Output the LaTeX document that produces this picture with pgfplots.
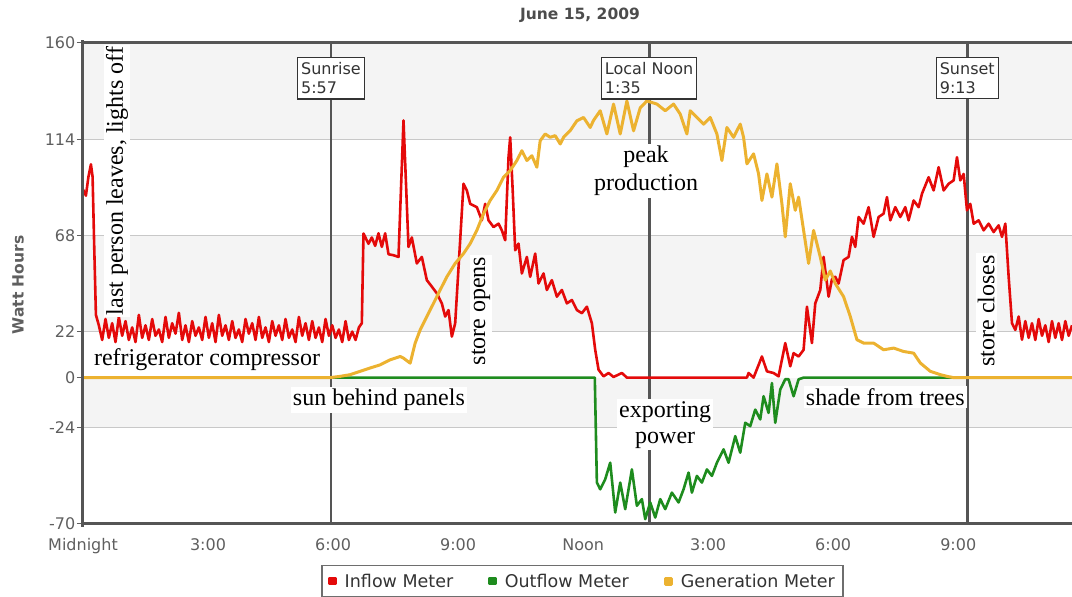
\documentclass[border=0pt]{standalone}
\usepackage{fontspec}
\setmainfont{Liberation Serif}
\newfontfamily\sansf{DejaVu Sans}
\usepackage{pgfplots}
\pgfplotsset{compat=1.18}
\definecolor{inred}{RGB}{228,10,10}
\definecolor{outgreen}{RGB}{30,140,30}
\definecolor{genyel}{RGB}{236,178,48}
\definecolor{frame}{RGB}{85,85,85}
\definecolor{band}{RGB}{244,244,244}
\definecolor{gridc}{RGB}{200,200,200}
\definecolor{tickt}{RGB}{95,95,95}
\definecolor{boxt}{RGB}{51,51,51}
\begin{document}
\begin{tikzpicture}
\path[use as bounding box] (0,0) rectangle (1072pt,597pt);
\begin{axis}[
  at={(83pt,73pt)}, anchor=south west,
  scale only axis, width=989pt, height=481pt,
  xmin=0, xmax=23.73, ymin=-70, ymax=160,
  clip=false,
  axis line style={draw=none},
  tick pos=left,
  xtick={0,3,6,9,12,15,18,21},
  xticklabels={Midnight,3:00,6:00,9:00,Noon,3:00,6:00,9:00},
  ytick={-70,-24,0,22,68,114,160},
  yticklabels={-70,-24,0,22,68,114,160},
  x tick style={draw=none},
  y tick style={draw=tickt, line width=1pt},
  tick align=outside,
  major tick length=6pt,
  ticklabel style={font=\sansf\fontsize{16}{19}\selectfont, text=tickt},
  xticklabel style={inner sep=0pt, text height=12pt, text depth=3pt, yshift=-8pt},
  yticklabel style={inner sep=0pt, xshift=-1.5pt},
  legend columns=3,
  legend image code/.code={\fill[#1] (0pt,-3pt) rectangle (6pt,3pt);},
  legend style={at={(axis description cs:0.505,-0.0852)}, anchor=north,
    draw=frame!85, line width=1.5pt, fill=white,
    font=\sansf\fontsize{17.5}{20}\selectfont, text=boxt,
    inner xsep=6pt, inner ysep=6pt,
    /tikz/every odd column/.append style={column sep=6pt},
    /tikz/every even column/.append style={column sep=33pt}},
  legend cell align=left,
  every axis plot/.append style={line join=round},
]
% background bands
\fill[band] (axis cs:0,114) rectangle (axis cs:23.73,160);
\fill[band] (axis cs:0,22) rectangle (axis cs:23.73,68);
\fill[band] (axis cs:0,-24) rectangle (axis cs:23.73,0);
% grid lines
\draw[gridc, line width=1pt] (axis cs:0,114) -- (axis cs:23.73,114);
\draw[gridc, line width=1pt] (axis cs:0,68) -- (axis cs:23.73,68);
\draw[gridc, line width=1pt] (axis cs:0,22) -- (axis cs:23.73,22);
\draw[gridc, line width=1pt] (axis cs:0,-24) -- (axis cs:23.73,-24);
% event lines
\draw[frame, line width=2.8pt] (axis cs:5.95,-70) -- (axis cs:5.95,160);
\draw[frame, line width=2.8pt] (axis cs:13.583,-70) -- (axis cs:13.583,160);
\draw[frame, line width=2.8pt] (axis cs:21.217,-70) -- (axis cs:21.217,160);

\addplot[color=inred, line width=2.6pt] coordinates {
(0,90) (0.07,87) (0.13,96) (0.19,102) (0.23,96) (0.27,62) (0.31,30) (0.38,25)
(0.46,18) (0.54,28) (0.62,19) (0.70,26) (0.78,17) (0.86,29) (0.94,20) (1.02,27) (1.10,18)
(1.18,24) (1.26,17) (1.34,30) (1.42,19) (1.50,25) (1.58,18) (1.66,28) (1.74,20) (1.82,23)
(1.90,17) (1.98,29) (2.06,19) (2.14,26) (2.22,21) (2.30,31) (2.38,18) (2.46,25) (2.54,17)
(2.62,27) (2.70,20) (2.78,24) (2.86,18) (2.94,29) (3.02,19) (3.10,26) (3.18,17) (3.26,30)
(3.34,20) (3.42,25) (3.50,18) (3.58,27) (3.66,19) (3.74,23) (3.82,17) (3.90,28) (3.98,21)
(4.06,26) (4.14,18) (4.22,29) (4.30,19) (4.38,24) (4.46,17) (4.54,27) (4.62,20) (4.70,25)
(4.78,18) (4.86,28) (4.94,19) (5.02,23) (5.10,17) (5.18,29) (5.26,20) (5.34,26) (5.42,18)
(5.50,27) (5.58,19) (5.66,24) (5.74,17) (5.82,28) (5.90,20) (5.98,25) (6.06,19) (6.14,23)
(6.22,17) (6.30,27) (6.38,18) (6.46,22) (6.54,18) (6.62,24)
(6.69,26) (6.73,68.9) (6.85,64) (6.93,67) (7.01,63) (7.09,69) (7.17,62.5) (7.25,69) (7.33,59)
(7.45,58.5) (7.57,57.7) (7.69,123) (7.81,62.5) (7.89,67) (8.01,54.6) (8.13,57.7)
(8.25,46.6) (8.37,43.5) (8.49,40.3) (8.61,35.5) (8.69,29.2) (8.77,32.3) (8.85,19.6) (8.93,26)
(9.05,65.7) (9.13,92.7) (9.21,89.5) (9.29,83.1) (9.45,81.5) (9.57,75.2) (9.65,83.1) (9.73,75.2)
(9.85,72) (9.97,73.6) (10.05,70.4) (10.13,65.7) (10.21,105.4) (10.25,114.9) (10.31,89.5)
(10.37,60.9) (10.45,64.1) (10.53,49.8) (10.65,57.7) (10.73,48.2) (10.85,59.3) (10.93,45)
(11.05,49.8) (11.13,41.9) (11.25,46.6) (11.37,38.7) (11.49,41.9) (11.61,35.5) (11.73,37.1)
(11.85,32.3) (11.97,30.8) (12.09,33.9) (12.21,26) (12.29,13.3) (12.37,3.8) (12.49,0.6)
(12.61,2.2) (12.73,0.3) (12.93,2.2) (13.05,0) (15.93,0) (15.97,2.2) (16.09,0) (16.29,10.1)
(16.41,3) (16.57,2.2) (16.69,0.6) (16.85,16.5) (16.97,5.4) (17.05,11.7) (17.17,10.1) (17.29,13.3)
(17.37,33.9) (17.49,16.5) (17.57,35.5) (17.69,41.9) (17.77,57.7) (17.89,38.7) (17.97,47)
(18.05,48.2) (18.13,45) (18.25,56.2) (18.37,57.7) (18.45,67.3) (18.53,62.5) (18.61,76.8)
(18.73,73.6) (18.85,81.5) (18.97,67.3) (19.09,76.8) (19.21,78.4) (19.29,86.3) (19.37,75.2)
(19.49,81.5) (19.61,76.8) (19.73,81.5) (19.81,75.2) (19.93,84.7) (20.05,81.5) (20.13,87.9)
(20.29,95.8) (20.41,89.5) (20.53,100.6) (20.65,89.5) (20.77,92.7) (20.89,94.3) (20.97,105.4)
(21.05,94.3) (21.13,97.4) (21.21,80) (21.29,83.1) (21.37,73.6) (21.49,75.2) (21.61,70.4)
(21.73,73.6) (21.85,69.6) (21.97,72.8) (22.05,67.3) (22.13,73.6) (22.21,48.2) (22.29,26)
(22.37,22.8) (22.45,29.2) (22.53,18.1) (22.61,27) (22.69,19) (22.77,26) (22.85,18) (22.93,28)
(23.01,20) (23.09,25) (23.17,17) (23.25,27) (23.33,19) (23.41,26) (23.49,18) (23.57,27)
(23.65,20) (23.73,25)
};
\addlegendentry{Inflow Meter}

\addplot[color=outgreen, line width=2.6pt] coordinates {
(0,0) (12.28,0) (12.33,-50.2) (12.41,-53.4) (12.53,-48.6) (12.65,-40.7) (12.77,-64.5)
(12.89,-50.2) (13.01,-62.9) (13.17,-43.9) (13.29,-61.3) (13.41,-58.1) (13.49,-67.7)
(13.61,-59.7) (13.73,-66.9) (13.85,-58.1) (13.97,-62.9) (14.13,-55) (14.29,-59.7)
(14.41,-53.4) (14.53,-45.4) (14.61,-55) (14.73,-47) (14.85,-50.2) (14.97,-43.9) (15.09,-47)
(15.21,-40.7) (15.37,-34.3) (15.49,-40.7) (15.65,-28) (15.77,-35.9) (15.89,-21.6)
(16.01,-23.2) (16.13,-15.3) (16.25,-20) (16.33,-8.9) (16.45,-16.9) (16.53,-2.6) (16.61,-21.6)
(16.73,-5.7) (16.85,-0.8) (16.93,-0.8) (17.05,-8.9) (17.17,-0.8) (17.29,0) (23.73,0)
};
\addlegendentry{Outflow Meter}

\addplot[color=genyel, line width=3pt] coordinates {
(0,0) (5.93,0) (6.17,0.6) (6.41,1.4) (6.65,3) (6.89,4.6) (7.13,6.1) (7.37,8.5) (7.61,10.1)
(7.69,9.3) (7.85,6.9) (7.97,16.5) (8.09,22.8) (8.25,29.2) (8.41,35.5) (8.57,41.9) (8.73,48.2)
(8.93,54.6) (9.13,59.3) (9.29,64.1) (9.45,70.4) (9.61,78.4) (9.77,84.7) (9.93,89.5) (10.09,95.8)
(10.25,99) (10.41,103.8) (10.53,108.5) (10.65,103.8) (10.77,106.1) (10.89,100.6) (10.97,113.3)
(11.09,116.5) (11.21,114.9) (11.33,115.7) (11.45,111.7) (11.53,114.9) (11.69,118.1)
(11.85,122.8) (12.01,124.4) (12.17,119.6) (12.25,123) (12.41,127.6) (12.57,116.5) (12.73,130.8)
(12.89,116.5) (13.05,132.3) (13.21,118) (13.37,129) (13.53,132.3) (13.77,130.8) (13.97,127.6)
(14.17,130.8) (14.33,126) (14.49,116.5) (14.57,127.6) (14.73,124.4) (14.89,121.2) (15.05,124.4)
(15.21,116.5) (15.33,103.8) (15.45,119.6) (15.61,114.9) (15.77,121.2) (15.85,114.9)
(15.93,102.2) (16.09,107) (16.21,97.4) (16.29,84.7) (16.41,97.4) (16.53,86.3) (16.65,102.2)
(16.77,83.1) (16.85,67.3) (16.97,92.7) (17.09,80) (17.17,86.3) (17.29,70.4) (17.41,54.6)
(17.53,70.4) (17.69,57.7) (17.81,46.6) (17.93,51) (18.05,45) (18.25,38.7) (18.41,29.2)
(18.57,18.1) (18.73,16.5) (18.97,16.5) (19.21,13.3) (19.45,14.1) (19.69,12.5) (19.93,11.7)
(20.09,7) (20.33,3) (20.57,1.4) (20.73,0.6) (20.89,0) (23.73,0)
};
\addlegendentry{Generation Meter}

% frame
\draw[frame, line width=3pt] (axis cs:0,-70) -- (axis cs:23.73,-70);
\draw[frame, line width=3pt] (axis cs:0,160) -- (axis cs:23.73,160);
\draw[frame, line width=3pt] (axis cs:0,-71.2) -- (axis cs:0,161.2);

% event label boxes
\node[draw=boxt, line width=1.2pt, fill=white, align=left, anchor=north, inner xsep=3.5pt, inner ysep=5pt,
      font=\sansf\fontsize{16}{19}\selectfont, text=boxt] at (axis cs:5.95,153.3) {Sunrise\\5:57};
\node[draw=boxt, line width=1.2pt, fill=white, align=left, anchor=north, inner xsep=3.5pt, inner ysep=5pt,
      font=\sansf\fontsize{16}{19}\selectfont, text=boxt] at (axis cs:13.583,153.3) {Local Noon\\1:35};
\node[draw=boxt, line width=1.2pt, fill=white, align=left, anchor=north, inner xsep=3.5pt, inner ysep=5pt,
      font=\sansf\fontsize{16}{19}\selectfont, text=boxt] at (axis cs:21.217,153.3) {Sunset\\9:13};

% annotations
\node[fill=white, inner sep=2pt, text=black, font=\fontsize{24}{28}\selectfont, rotate=90] at (axis cs:0.816,94.0) {last person leaves, lights off};
\node[fill=white, inner sep=2pt, text=black, font=\fontsize{24}{28}\selectfont] at (axis cs:2.976,8.4) {refrigerator compressor};
\node[fill=white, inner sep=2pt, text=black, font=\fontsize{24}{28}\selectfont] at (axis cs:7.10,-10.7) {sun behind panels};
\node[fill=white, inner sep=2pt, text=black, font=\fontsize{24}{28}\selectfont, rotate=90] at (axis cs:9.55,31.85) {store opens};
\node[fill=white, inner sep=2pt, text=black, align=center, font=\fontsize{24}{28}\selectfont] at (axis cs:13.51,98.8) {peak\\production};
\node[fill=white, inner sep=2pt, text=black, align=center, font=\fontsize{24}{26}\selectfont] at (axis cs:13.97,-22.66) {exporting\\power};
\node[fill=white, inner sep=2pt, text=black, font=\fontsize{24}{28}\selectfont] at (axis cs:19.25,-9.27) {shade from trees};
\node[fill=white, inner sep=2pt, text=black, font=\fontsize{24}{28}\selectfont, rotate=90] at (axis cs:21.67,31.85) {store closes};
\end{axis}
\node[font=\sansf\bfseries\fontsize{15.5}{18}\selectfont, text=tickt!80!black] at (580pt,582pt) {June 15, 2009};
\node[rotate=90, font=\sansf\bfseries\fontsize{15.5}{18}\selectfont, text=tickt] at (18pt,312pt) {Watt Hours};
\end{tikzpicture}
\end{document}
